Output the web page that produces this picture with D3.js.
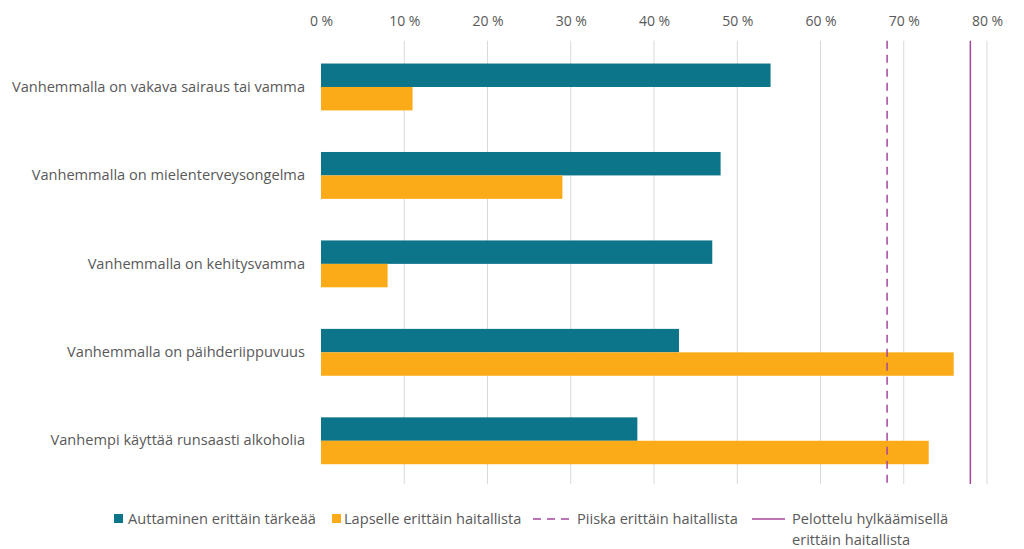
<!DOCTYPE html>
<html><head><meta charset="utf-8">
<script src="https://cdn.jsdelivr.net/npm/d3@7"></script>
<style>
body{margin:0;background:#fff;}
text{font-family:"Open Sans",sans-serif;fill:#595959;}
</style></head>
<body><svg id="c" width="1024" height="549"></svg>
<script>
const categories = [
  "Vanhemmalla on vakava sairaus tai vamma",
  "Vanhemmalla on mielenterveysongelma",
  "Vanhemmalla on kehitysvamma",
  "Vanhemmalla on päihderiippuvuus",
  "Vanhempi käyttää runsaasti alkoholia"
];
const auttaminen = [54, 48, 47, 43, 38];
const lapselle = [11, 29, 8, 76, 73];
const piiska = 68;
const pelottelu = 78;
const ticks = [0,10,20,30,40,50,60,70,80];
const seriesNames = ["Auttaminen erittäin tärkeää","Lapselle erittäin haitallista","Piiska erittäin haitallista",["Pelottelu hylkäämisellä","erittäin haitallista"]];

(function(){
const TEAL="#0c7589", ORANGE="#fbab18", PURPLE="#a4479a";
const svg = d3.select("#c");
const pLeft=321, pRight=987, pTop=42.75, pBottom=485;
const x = d3.scaleLinear().domain([0,80]).range([pLeft,pRight]);
const y = d3.scaleBand().domain(categories).range([pTop,pBottom]).paddingInner(0.47).paddingOuter(0.235);
const y2 = d3.scaleBand().domain([0,1]).range([0,y.bandwidth()]);

svg.append("g").selectAll("line").data(ticks.slice(1)).join("line")
  .attr("x1",d=>x(d)).attr("x2",d=>x(d)).attr("y1",pTop-2).attr("y2",pBottom-1)
  .attr("stroke","#d9d9d9").attr("stroke-width",1);

const ax = svg.append("g").attr("transform",`translate(0,${pTop-2})`)
  .call(d3.axisTop(x).tickValues(ticks).tickFormat(d=>d+" %").tickSize(0).tickPadding(15));
ax.select(".domain").remove();
ax.selectAll("text").style("font-family","Open Sans").style("font-size","14px").attr("fill","#595959");

const g = svg.append("g");
categories.forEach((c,i)=>{
  g.append("rect").attr("x",x(0)).attr("y",y(c)+y2(0)).attr("width",x(auttaminen[i])-x(0)).attr("height",y2.bandwidth()).attr("fill",TEAL);
  g.append("rect").attr("x",x(0)).attr("y",y(c)+y2(1)).attr("width",x(lapselle[i])-x(0)).attr("height",y2.bandwidth()).attr("fill",ORANGE);
});

const ay = svg.append("g").attr("transform",`translate(${pLeft},0)`)
  .call(d3.axisLeft(y).tickSize(0).tickPadding(16));
ay.select(".domain").remove();
ay.selectAll("text").style("font-family","Open Sans").style("font-size","14.6px").attr("fill","#595959");

svg.append("line").attr("x1",x(piiska)).attr("x2",x(piiska)).attr("y1",pTop-2).attr("y2",pBottom-1)
  .attr("stroke",PURPLE).attr("stroke-width",1.5).attr("stroke-dasharray","8,6");
svg.append("line").attr("x1",x(pelottelu)).attr("x2",x(pelottelu)).attr("y1",pTop-2).attr("y2",pBottom-1)
  .attr("stroke",PURPLE).attr("stroke-width",1.5);

const L = svg.append("g").style("font-size","14.6px");
const ly = 519;
L.append("rect").attr("x",114).attr("y",ly-5).attr("width",9).attr("height",9).attr("fill",TEAL);
L.append("text").attr("x",128).attr("y",ly).attr("dy","0.35em").text(seriesNames[0]);
L.append("rect").attr("x",332).attr("y",ly-5).attr("width",9).attr("height",9).attr("fill",ORANGE);
L.append("text").attr("x",344).attr("y",ly).attr("dy","0.35em").text(seriesNames[1]);
L.append("line").attr("x1",533).attr("x2",570).attr("y1",ly).attr("y2",ly).attr("stroke",PURPLE).attr("stroke-width",1.5).attr("stroke-dasharray","8,6");
L.append("text").attr("x",577).attr("y",ly).attr("dy","0.35em").text(seriesNames[2]);
L.append("line").attr("x1",752).attr("x2",785).attr("y1",ly).attr("y2",ly).attr("stroke",PURPLE).attr("stroke-width",1.5);
L.append("text").attr("x",792).attr("y",ly).attr("dy","0.35em").text(seriesNames[3][0]);
L.append("text").attr("x",792).attr("y",ly+21).attr("dy","0.35em").text(seriesNames[3][1]);
})();
</script></body></html>
